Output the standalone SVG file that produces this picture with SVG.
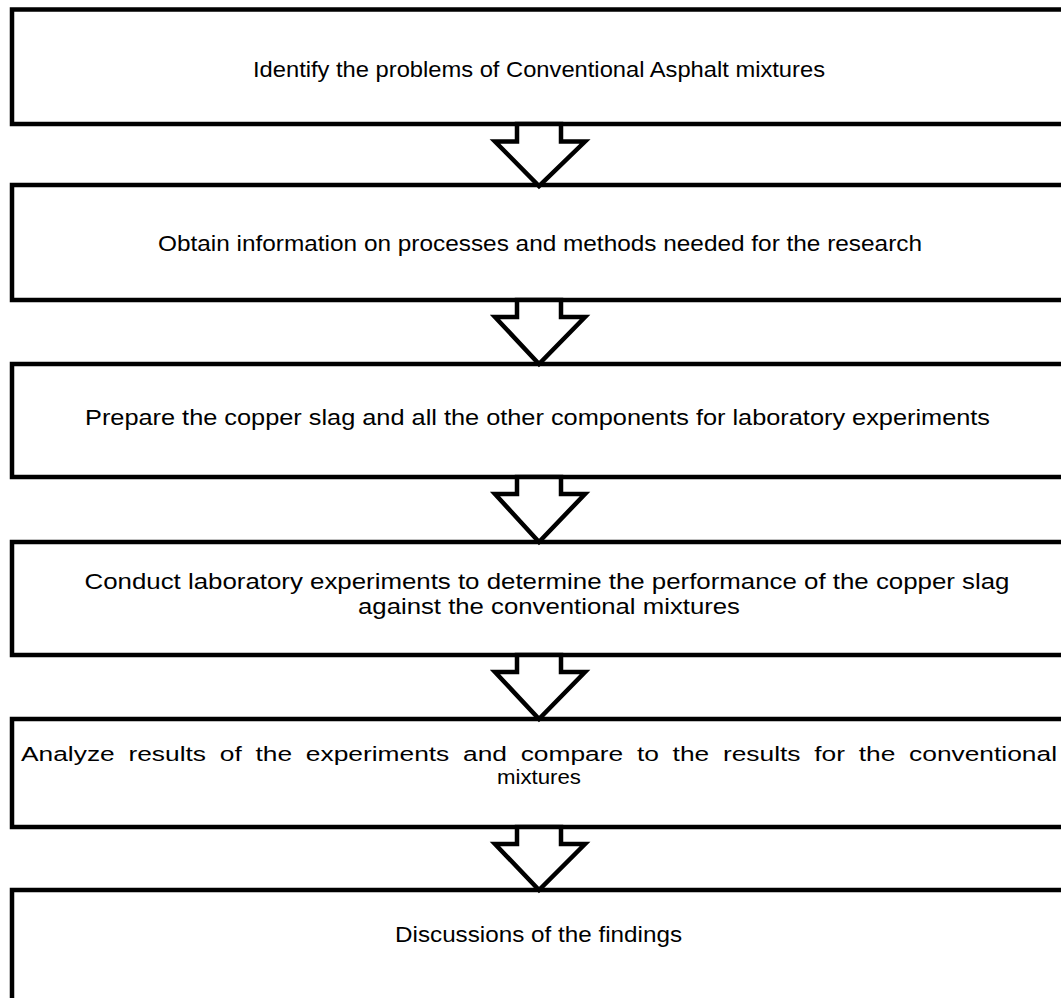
<svg xmlns="http://www.w3.org/2000/svg" width="1061" height="998" viewBox="0 0 1061 998">
<style>
.box{fill:#fff;stroke:#000;stroke-width:4.5}
.arr{fill:#fff;stroke:#000;stroke-width:4.5;stroke-linejoin:miter}
text{font-family:"Liberation Sans",Arial,sans-serif;font-size:22px;fill:#000;text-anchor:middle}
.tight{font-size:20.5px}
</style>
<rect width="1061" height="998" fill="#fff"/>
<g id="node1"><rect class="box" x="12" y="9.5" width="1070" height="114.5"/><text x="539" y="77" textLength="572" lengthAdjust="spacingAndGlyphs">Identify the problems of Conventional Asphalt mixtures</text></g>
<g id="node2"><rect class="box" x="12" y="185" width="1070" height="115"/><text x="540" y="251" textLength="764" lengthAdjust="spacingAndGlyphs">Obtain information on processes and methods needed for the research</text></g>
<g id="node3"><rect class="box" x="12" y="364" width="1070" height="113"/><text x="537.5" y="425" textLength="905" lengthAdjust="spacingAndGlyphs">Prepare the copper slag and all the other components for laboratory experiments</text></g>
<g id="node4"><rect class="box" x="12" y="542" width="1070" height="113"/><text x="547" y="589" textLength="925" lengthAdjust="spacingAndGlyphs">Conduct laboratory experiments to determine the performance of the copper slag</text><text x="549" y="614" textLength="382" lengthAdjust="spacingAndGlyphs">against the conventional mixtures</text></g>
<g id="node5"><rect class="box" x="12" y="719" width="1070" height="108"/><text class="tight" x="539" y="761" word-spacing="5" textLength="1036" lengthAdjust="spacingAndGlyphs">Analyze results of the experiments and compare to the results for the conventional</text><text class="tight" x="539" y="784" textLength="84" lengthAdjust="spacingAndGlyphs">mixtures</text></g>
<g id="node6"><rect class="box" x="12" y="890" width="1070" height="130"/><text x="538.5" y="942" textLength="287" lengthAdjust="spacingAndGlyphs">Discussions of the findings</text></g>
<g id="connectors">
<polygon class="arr" points="517,124 517,141.5 495,141.5 539,186 585,141.5 561,141.5 561,124"/>
<polygon class="arr" points="517,300 517,317 495,317 539,364 585,317 561,317 561,300"/>
<polygon class="arr" points="517,477 517,494 495,494 539,542 585,494 561,494 561,477"/>
<polygon class="arr" points="517,655 517,672 495,672 539,719 585,672 561,672 561,655"/>
<polygon class="arr" points="517,827 517,844 495,844 539,890 585,844 561,844 561,827"/>
</g>
</svg>
